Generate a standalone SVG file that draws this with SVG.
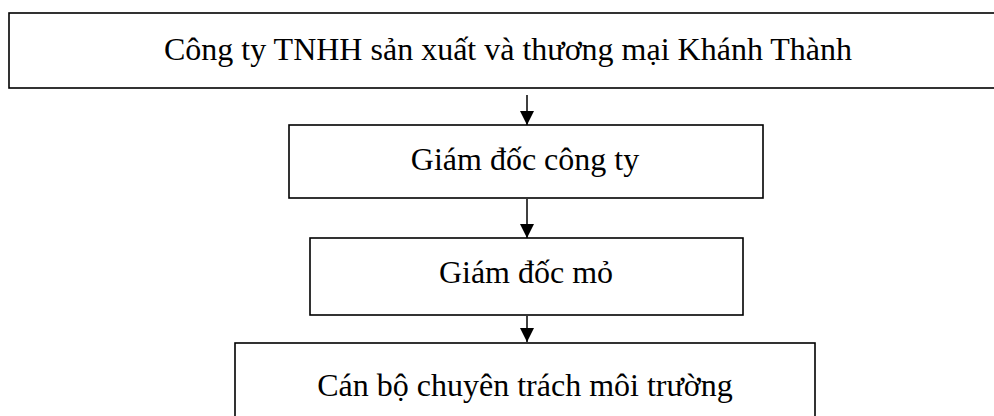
<svg xmlns="http://www.w3.org/2000/svg" width="994" height="416" viewBox="0 0 994 416">
<style>
.box{fill:#fff;stroke:#000;stroke-width:1.6}
.lbl{font-family:"Liberation Serif","Times New Roman",serif;font-size:32px;fill:#000;text-anchor:middle}
.conn{stroke:#000;stroke-width:1.5;fill:none}
</style>
<defs>
<marker id="ah" markerWidth="14" markerHeight="14" refX="14" refY="7" orient="auto" markerUnits="userSpaceOnUse">
<path d="M0,0 L14,7 L0,14 Z" fill="#000"/>
</marker>
</defs>
<rect width="994" height="416" fill="#fff"/>
<g id="n1">
<rect class="box" x="9" y="13" width="1000" height="75"/>
<text class="lbl" x="508" y="60">Công ty TNHH sản xuất và thương mại Khánh Thành</text>
</g>
<g id="n2">
<rect class="box" x="289" y="125" width="474" height="73"/>
<text class="lbl" x="525" y="170">Giám đốc công ty</text>
</g>
<g id="n3">
<rect class="box" x="310" y="238" width="433" height="77"/>
<text class="lbl" x="526" y="283">Giám đốc mỏ</text>
</g>
<g id="n4">
<rect class="box" x="235" y="343" width="580" height="90"/>
<text class="lbl" x="525" y="396">Cán bộ chuyên trách môi trường</text>
</g>
<g id="connectors">
<line class="conn" x1="527" y1="95" x2="527" y2="125" marker-end="url(#ah)"/>
<line class="conn" x1="527" y1="199" x2="527" y2="238" marker-end="url(#ah)"/>
<line class="conn" x1="527" y1="316" x2="527" y2="342" marker-end="url(#ah)"/>
</g>
</svg>
